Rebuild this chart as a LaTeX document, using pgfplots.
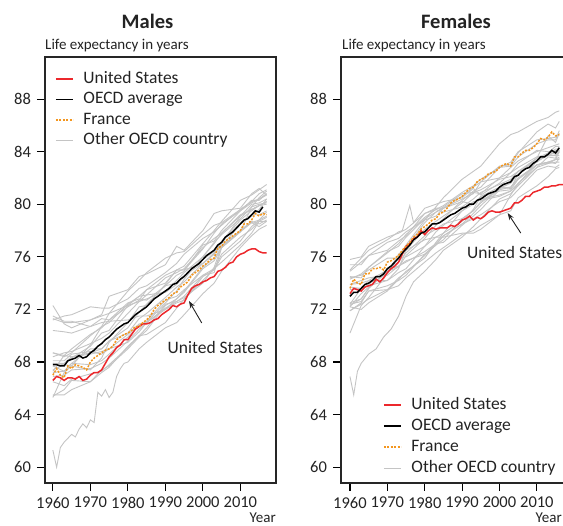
\documentclass[border=0pt]{standalone}
\usepackage{pgfplots}
\pgfplotsset{compat=1.18}
\usepackage{pgfplotstable}
\usetikzlibrary{arrows.meta}
\usepackage{fontspec}
\setmainfont{Carlito}

\definecolor{usred}{RGB}{236,40,44}
\definecolor{froran}{RGB}{243,150,30}
\definecolor{othgray}{RGB}{196,196,196}
\definecolor{txt}{RGB}{35,35,35}

% yearly values: United States, OECD average, France
\pgfplotstableread{
yr us oecd fr
1960 66.6 67.8 67.0
1961 66.9 67.8 67.5
1962 66.8 67.7 67.0
1963 66.6 67.7 66.8
1964 66.8 68.1 67.7
1965 66.8 68.2 67.5
1966 66.7 68.3 67.8
1967 66.9 68.5 67.7
1968 66.6 68.3 67.6
1969 66.7 68.4 67.4
1970 67.0 68.7 68.0
1971 67.2 68.9 68.3
1972 67.2 69.2 68.5
1973 67.4 69.4 68.7
1974 67.9 69.7 68.9
1975 68.4 69.9 69.0
1976 68.7 70.2 69.2
1977 69.1 70.5 69.7
1978 69.3 70.7 69.9
1979 69.7 70.9 70.1
1980 69.7 71.0 70.2
1981 70.1 71.3 70.4
1982 70.5 71.6 70.7
1983 70.7 71.8 70.7
1984 70.9 72.0 71.0
1985 70.9 72.2 71.2
1986 71.0 72.5 71.5
1987 71.2 72.8 72.0
1988 71.3 73.0 72.3
1989 71.6 73.2 72.5
1990 71.8 73.4 72.7
1991 72.0 73.6 72.9
1992 72.3 73.9 73.2
1993 72.2 74.0 73.3
1994 72.4 74.3 73.7
1995 72.5 74.5 73.9
1996 73.1 74.8 74.1
1997 73.6 75.1 74.6
1998 73.8 75.3 74.8
1999 73.9 75.5 75.0
2000 74.1 75.8 75.3
2001 74.2 76.1 75.5
2002 74.4 76.3 75.8
2003 74.5 76.5 75.9
2004 74.9 76.9 76.7
2005 75.0 77.1 76.8
2006 75.2 77.5 77.2
2007 75.5 77.7 77.4
2008 75.6 77.9 77.6
2009 76.0 78.2 77.8
2010 76.2 78.5 78.0
2011 76.3 78.8 78.5
2012 76.5 78.9 78.5
2013 76.6 79.2 78.8
2014 76.6 79.5 79.3
2015 76.4 79.4 79.1
2016 76.3 79.8 79.3
2017 76.3 nan 79.2
}\males

\pgfplotstableread{
yr us oecd fr
1960 73.2 73.0 73.6
1961 73.6 73.3 74.3
1962 73.5 73.3 74.0
1963 73.4 73.6 73.9
1964 73.7 73.9 74.7
1965 73.8 74.0 74.7
1966 73.9 74.2 75.1
1967 74.3 74.5 75.1
1968 74.1 74.5 75.2
1969 74.4 74.7 75.0
1970 74.8 75.1 75.6
1971 75.1 75.3 75.7
1972 75.3 75.6 75.9
1973 75.6 75.9 76.1
1974 76.2 76.3 76.5
1975 76.8 76.6 76.8
1976 77.0 76.9 77.1
1977 77.4 77.3 77.5
1978 77.5 77.5 77.7
1979 78.0 77.8 78.1
1980 77.7 77.9 78.3
1981 78.0 78.2 78.5
1982 78.2 78.5 78.8
1983 78.1 78.5 78.9
1984 78.2 78.6 79.3
1985 78.2 78.8 79.4
1986 78.2 79.0 79.7
1987 78.4 79.2 80.1
1988 78.3 79.3 80.3
1989 78.5 79.5 80.4
1990 78.8 79.7 80.6
1991 78.9 79.8 80.9
1992 79.1 80.0 81.2
1993 78.8 80.0 81.3
1994 79.0 80.3 81.7
1995 78.9 80.4 81.9
1996 79.1 80.6 82.0
1997 79.4 80.8 82.3
1998 79.5 80.9 82.4
1999 79.4 81.0 82.5
2000 79.4 81.3 82.8
2001 79.5 81.5 83.0
2002 79.6 81.6 83.1
2003 79.7 81.7 82.9
2004 80.1 82.1 83.6
2005 80.1 82.2 83.6
2006 80.3 82.5 83.9
2007 80.6 82.7 84.1
2008 80.6 82.8 84.1
2009 80.9 83.1 84.3
2010 81.0 83.3 84.6
2011 81.1 83.6 85.0
2012 81.3 83.6 84.9
2013 81.3 83.8 85.1
2014 81.4 84.1 85.5
2015 81.4 83.9 85.2
2016 81.5 84.3 85.3
2017 81.5 nan nan
}\females

% other OECD countries, one row per country
\pgfplotstableread{
name 1960 1963 1965 1970 1973 1975 1980 1983 1985 1990 1993 1995 2000 2003 2005 2010 2013 2015 2017
Nor 71.3 71.0 71.0 71.2 71.5 71.7 72.3 72.6 72.8 73.4 74.2 74.8 76.0 77.1 77.7 78.9 79.8 80.5 81.0
Ned 71.5 71.1 71.1 70.7 71.3 71.2 72.5 72.8 72.7 73.8 74.0 74.6 75.5 76.3 77.2 78.8 79.5 79.9 80.2
Swe 71.2 71.5 71.6 72.2 72.1 72.1 72.8 73.6 73.8 74.8 75.5 76.2 77.4 77.9 78.4 79.6 80.2 80.4 80.8
Ice 72.3 70.9 70.6 71.2 71.6 73.0 73.5 74.5 74.7 75.4 76.8 76.5 78.0 79.3 79.5 79.7 80.8 81.2 80.7
Den 70.4 70.3 70.2 70.7 71.0 71.1 71.2 71.5 71.5 72.0 72.5 72.7 74.5 75.0 76.0 77.2 78.3 78.8 79.1
Swi 68.7 68.4 68.7 70.0 70.7 71.0 72.4 73.0 73.5 74.0 75.0 75.3 77.0 78.0 78.7 80.3 80.7 81.1 81.5
UK 67.9 67.9 68.4 68.7 69.0 69.6 70.2 71.3 71.7 72.9 73.7 74.1 75.5 76.2 77.1 78.6 79.2 79.2 79.5
Can 68.4 68.7 68.8 69.4 69.8 70.2 71.7 72.6 73.1 74.4 74.8 75.1 76.7 77.4 77.8 79.1 79.6 79.9 80.0
Aus 67.9 67.8 67.7 67.4 68.3 69.5 71.0 72.2 72.3 73.9 75.0 75.0 76.6 77.8 78.5 79.5 80.1 80.4 80.7
NZ 68.7 68.5 68.4 68.6 68.8 69.0 70.1 70.9 71.0 72.5 73.4 74.3 76.0 77.0 77.8 79.2 79.6 79.9 80.2
Jap 65.3 67.2 67.7 69.3 70.7 71.7 73.4 74.2 74.8 75.9 76.3 76.4 77.7 78.4 78.6 79.6 80.2 80.8 81.1
Ita 67.2 67.3 67.9 69.0 69.0 69.6 70.6 71.8 72.4 73.8 74.6 74.9 76.9 77.2 78.0 79.5 80.3 80.3 80.8
Spa 67.4 67.8 68.3 69.2 70.2 70.4 72.3 73.0 73.1 73.3 73.9 74.5 75.8 76.4 77.0 79.1 80.0 80.1 80.4
Ger 66.9 67.0 67.4 67.5 67.9 68.3 69.6 70.5 71.0 72.0 72.8 73.3 75.1 75.7 76.7 78.0 78.6 78.3 78.7
Aut 65.4 65.9 66.6 66.5 67.4 67.7 69.0 69.9 70.4 72.3 72.8 73.4 75.2 75.9 76.7 77.9 78.6 78.8 79.4
Bel 67.7 67.3 67.9 67.8 68.1 68.6 69.9 70.8 71.1 72.7 73.0 73.5 74.6 75.1 76.2 77.5 78.1 78.7 79.0
Fin 65.5 65.5 65.9 66.5 67.2 67.6 69.2 70.0 70.1 71.0 72.1 72.8 74.2 75.1 75.6 76.9 77.8 78.7 78.7
Gre 67.3 68.5 69.0 70.1 70.6 71.2 72.2 72.7 73.5 74.6 75.0 75.0 75.5 76.2 76.8 78.0 78.7 78.5 78.8
Ire 68.1 68.1 68.6 68.8 68.6 69.0 69.5 70.3 71.0 72.1 72.6 72.9 74.0 75.2 76.8 78.5 79.1 79.6 80.4
Lux 66.5 66.2 66.7 67.1 67.3 67.8 69.1 70.0 70.6 72.4 72.6 73.0 74.6 74.8 76.7 77.9 79.8 80.0 80.1
}\malesothersraw
\pgfplotstabletranspose[colnames from=name, input colnames to=yr]{\malesothers}{\malesothersraw}

\pgfplotstableread{
name 1960 1963 1965 1970 1973 1975 1980 1983 1985 1990 1993 1995 2000 2003 2005 2010 2013 2015 2016
Nor 75.8 76.0 76.8 77.5 77.8 78.1 79.3 79.6 79.4 79.8 80.4 80.9 81.5 81.9 82.5 83.2 83.8 84.2 84.2
Ned 75.4 75.4 76.1 76.5 77.2 77.6 79.3 79.7 79.7 80.2 80.0 80.4 80.7 81.0 81.6 83.0 83.1 83.2 83.2
Swe 74.9 75.6 76.1 77.1 77.4 77.9 78.8 79.1 79.7 80.4 80.8 81.7 82.0 82.4 82.8 83.6 83.8 84.1 84.1
Den 74.4 74.6 75.0 75.9 75.9 76.5 77.3 77.5 77.5 77.8 77.8 78.1 79.2 79.5 80.5 81.4 82.1 82.7 82.8
Swi 74.5 74.4 75.2 76.3 77.0 77.7 79.0 79.6 79.9 80.9 81.4 81.9 82.8 83.2 84.0 84.9 85.0 85.1 85.3
UK 73.7 73.6 74.2 75.0 75.3 75.7 76.2 76.9 77.6 78.5 78.9 79.2 80.2 80.5 81.1 82.6 82.9 82.8 83.0
Can 74.3 74.7 75.2 76.4 76.8 77.5 78.9 79.4 79.8 80.8 80.9 81.1 81.9 82.1 82.5 83.3 83.7 84.0 84.0
Aus 73.9 74.0 74.2 74.2 75.1 76.5 78.1 78.7 79.1 80.1 80.9 80.8 82.0 82.8 83.3 84.0 84.3 84.5 84.6
NZ 73.9 74.2 74.4 74.6 75.3 75.6 76.4 77.0 77.1 78.4 79.1 79.6 81.1 81.3 81.9 83.0 83.2 83.4 83.4
Jap 70.2 72.3 72.9 74.7 76.0 76.9 78.8 79.8 80.5 81.9 82.5 82.9 84.6 85.3 85.5 86.3 86.6 87.0 87.1
Ita 72.3 72.8 73.6 74.9 75.2 76.1 77.4 78.4 78.9 80.3 81.0 81.3 82.8 82.9 83.6 84.6 84.9 84.9 85.6
Spa 72.2 73.2 73.7 74.8 76.2 76.7 78.6 79.4 79.7 80.6 81.3 81.7 82.9 83.0 83.9 85.5 86.1 85.8 86.3
Ger 72.4 72.6 73.4 73.8 74.2 74.6 76.2 77.0 77.6 78.5 79.3 79.9 81.2 81.3 82.0 83.0 83.2 83.1 83.5
Aut 71.9 72.5 73.4 73.5 74.4 74.8 76.1 76.9 77.3 78.9 79.5 80.1 81.2 81.6 82.3 83.5 83.8 83.7 84.1
Bel 73.5 73.6 73.8 74.2 74.8 75.1 76.8 77.5 77.8 79.5 80.0 80.6 81.0 81.1 81.9 83.0 83.2 83.4 84.0
Fin 72.5 72.8 73.6 75.0 75.6 76.3 77.6 78.1 78.5 78.9 79.5 80.2 81.2 81.8 82.5 83.5 83.9 84.4 84.4
Gre 72.4 73.6 73.9 75.0 75.9 76.0 76.8 77.9 78.4 79.5 80.2 80.3 80.6 81.0 81.5 83.3 83.7 83.7 84.0
Ire 71.9 72.4 72.8 73.5 73.8 74.4 75.6 76.3 76.7 77.7 78.0 78.4 79.2 80.7 81.6 82.8 83.1 83.4 83.6
Lux 72.2 72.0 72.5 73.4 74.3 74.9 75.9 77.1 77.8 78.7 79.6 80.6 81.3 81.2 82.3 83.5 85.2 84.7 85.4
}\femalesothersraw
\pgfplotstabletranspose[colnames from=name, input colnames to=yr]{\femalesothers}{\femalesothersraw}

\pgfplotsset{
  lifeax/.style={
    scale only axis, width=231pt, height=426pt,
    xmin=1957.9, xmax=2019.5, ymin=58.8, ymax=91.2,
    xtick={1960,1970,...,2010}, ytick={60,64,...,88},
    xtick pos=bottom, ytick pos=left, tick align=outside,
    major tick length=8pt,
    tick style={black, line width=1.1pt},
    axis line style={black!85, line width=1.2pt},
    /pgf/number format/assume math mode=true,
    /pgf/number format/set thousands separator={},
    ticklabel style={font=\fontsize{16.5}{18}\selectfont, text=txt},
    yticklabel style={xshift=-2.5pt},
    xticklabel style={yshift=-2.5pt},
    legend cell align=left,
    legend image code/.code={\draw[##1] (0pt,0pt) -- (17pt,0pt); \path[draw=none] (0pt,0pt) -- (26pt,0pt);},
  },
  othline/.style={othgray, line width=0.9pt, forget plot},
  usline/.style={usred, line width=1.5pt},
  oecdline/.style={black, line width=1.5pt},
  frline/.style={froran, line width=1.5pt, dash pattern=on 2pt off 1.4pt},
}

\begin{document}
\begin{tikzpicture}
% ---------------- Males ----------------
\begin{axis}[lifeax, at={(45pt,43pt)}, anchor=south west,
  legend style={at={(rel axis cs:0.0433,0.9707)}, anchor=north west, draw=none, fill=none,
    inner sep=0pt, row sep=1.5pt, font=\fontsize{17.5}{19}\selectfont, text=txt,
    nodes={inner sep=1.5pt, text height=12pt, text depth=4pt}}]
\addlegendimage{usline}\addlegendentry{United States}
\addlegendimage{oecdline}\addlegendentry{OECD average}
\addlegendimage{frline}\addlegendentry{France}
\addlegendimage{othgray, line width=1.2pt}\addlegendentry{Other OECD country}
\pgfplotsinvokeforeach{Nor,Ned,Swe,Ice,Den,Swi,UK,Can,Aus,NZ,Jap,Ita,Spa,Ger,Aut,Bel,Fin,Gre,Ire,Lux}{
  \addplot[othline] table[x=yr, y=#1] {\malesothers};
}
\addplot[othline] coordinates {
(1960,61.3) (1961,60.0) (1962,61.5) (1963,61.9) (1964,62.2) (1965,62.5) (1966,62.3)
(1967,62.9) (1968,63.3) (1969,63.0) (1970,63.6) (1971,63.4) (1972,65.7) (1973,65.4)
(1974,65.9) (1975,65.3) (1976,65.7) (1977,66.9) (1978,67.5) (1979,67.9) (1980,68.0)
(1983,69.0) (1985,69.5) (1990,70.6) (1993,71.0) (1995,71.6) (2000,73.2) (2003,74.0)
(2005,74.9) (2010,76.7) (2013,77.6) (2015,78.1) (2017,78.4)};
\addplot[usline, forget plot] table[x=yr, y=us] {\males};
\addplot[oecdline, forget plot] table[x=yr, y=oecd] {\males};
\addplot[frline, forget plot] table[x=yr, y=fr] {\males};
\node[font=\fontsize{17.5}{19}\selectfont, text=txt] at (axis cs:2003.3,69.1) {United States};
\draw[-{Stealth[length=7pt,width=5pt]}, line width=0.9pt, txt] (axis cs:1999.7,70.97) -- (axis cs:1996.3,72.64);
\end{axis}

% ---------------- Females ----------------
\begin{axis}[lifeax, at={(341pt,43pt)}, anchor=south west, xmin=1957.6, xmax=2019.4,
  legend style={at={(rel axis cs:0.1818,0.2054)}, anchor=north west, draw=none, fill=none,
    inner sep=0pt, row sep=2pt, font=\fontsize{17.5}{19}\selectfont, text=txt,
    nodes={inner sep=1.5pt, text height=12pt, text depth=4pt}}]
\addlegendimage{usline}\addlegendentry{United States}
\addlegendimage{oecdline}\addlegendentry{OECD average}
\addlegendimage{frline}\addlegendentry{France}
\addlegendimage{othgray, line width=1.2pt}\addlegendentry{Other OECD country}
\pgfplotsinvokeforeach{Nor,Ned,Swe,Den,Swi,UK,Can,Aus,NZ,Jap,Ita,Spa,Ger,Aut,Bel,Fin,Gre,Ire,Lux}{
  \addplot[othline] table[x=yr, y=#1] {\femalesothers};
}
\addplot[othline] coordinates {
(1960,75.0) (1963,75.9) (1965,76.5) (1970,77.3) (1973,77.9) (1974,78.0) (1976,79.9)
(1977,78.6) (1980,79.7) (1983,80.0) (1985,80.2) (1990,80.5) (1993,81.2) (1995,80.7)
(2000,81.6) (2003,82.4) (2005,83.1) (2010,84.1) (2013,84.0) (2015,83.8) (2016,83.7)};
\addplot[othline] coordinates {
(1960,66.9) (1961,65.5) (1962,67.3) (1963,67.9) (1965,68.6) (1967,69.0) (1969,69.9)
(1971,70.5) (1973,71.5) (1975,73.0) (1977,74.1) (1980,74.9) (1983,75.8) (1985,76.5)
(1990,77.5) (1993,78.3) (1995,78.9) (2000,80.4) (2003,80.8) (2005,81.4) (2010,82.8)
(2013,83.6) (2015,83.5) (2016,84.3)};
\addplot[usline, forget plot] table[x=yr, y=us] {\females};
\addplot[oecdline, forget plot] table[x=yr, y=oecd] {\females};
\addplot[frline, forget plot] table[x=yr, y=fr] {\females};
\node[font=\fontsize{17.5}{19}\selectfont, text=txt, anchor=west, inner sep=0pt] at (axis cs:1991.3,76.3) {United States};
\draw[-{Stealth[length=7pt,width=5pt]}, line width=0.9pt, txt] (axis cs:2005.7,77.81) -- (axis cs:2002.2,79.33);
\end{axis}

% titles and axis captions
\node[font=\bfseries\fontsize{20.5}{22}\selectfont, text=txt, anchor=base] at (147.5pt,497pt) {Males};
\node[font=\bfseries\fontsize{20.5}{22}\selectfont, text=txt, anchor=base] at (456pt,497pt) {Females};
\node[font=\fontsize{15}{17}\selectfont, text=txt, anchor=base west, inner sep=0pt] at (45pt,476.5pt) {Life expectancy in years};
\node[font=\fontsize{15}{17}\selectfont, text=txt, anchor=base west, inner sep=0pt] at (342pt,476.5pt) {Life expectancy in years};
\node[font=\fontsize{15}{17}\selectfont, text=txt, anchor=base east, inner sep=0pt] at (276pt,3pt) {Year};
\node[font=\fontsize{15}{17}\selectfont, text=txt, anchor=base east, inner sep=0pt] at (562pt,3pt) {Year};

\pgfresetboundingbox
\path[use as bounding box] (0pt,0pt) rectangle (563pt,526pt);
\end{tikzpicture}
\end{document}
